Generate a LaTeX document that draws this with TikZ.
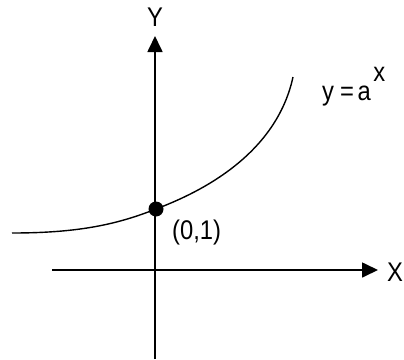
\documentclass[tikz,border=0pt]{standalone}
\usepackage{fontspec}
\setmainfont{Liberation Sans}
\usepackage{tikz}
\usetikzlibrary{arrows.meta,positioning}
\newcommand{\slim}[1]{\scalebox{0.88}[1]{#1}}
\tikzset{
  axis/.style={line width=1.7pt, -{Triangle[length=16pt, width=15pt]}},
  curve/.style={line width=1.4pt},
  lbl/.style={font=\fontsize{27}{29}\selectfont, inner sep=0pt},
  pointdot/.style={circle, fill=black, minimum size=15pt, inner sep=0pt},
}
\begin{document}
\begin{tikzpicture}[x=1pt, y=-1pt]
  \useasboundingbox (0,0) rectangle (404,359);

  % Axes
  \coordinate (xstart) at (52,270);
  \coordinate (xend) at (378,270);
  \coordinate (ystart) at (155,359);
  \coordinate (yend) at (155,36);
  \draw[axis] (xstart) -- (xend);
  \draw[axis] (ystart) -- (yend);
  \node[lbl] (xlab) at (395,272) {\slim{X}};
  \node[lbl] (ylab) at (155,17) {\slim{Y}};

  % Point (0,1)
  \node[pointdot] (p01) at (156,209) {};
  \node[lbl, anchor=north west] (p01lab) at (172,220) {\slim{(0,1)}};

  % Curve y = a^x
  \coordinate (cleft) at (12,233);
  \coordinate (cright) at (293,77);
  \draw[curve] (cleft) .. controls (80,233) and (118,224) .. (p01.center)
    .. controls (190,196) and (275,160) .. (cright);
  \node[lbl, anchor=base west] (eqlab) at (322,100)
    {\slim{y\hspace{7pt}=\hspace{4pt}a\hspace{3pt}\raisebox{19pt}{x}}};
\end{tikzpicture}
\end{document}
